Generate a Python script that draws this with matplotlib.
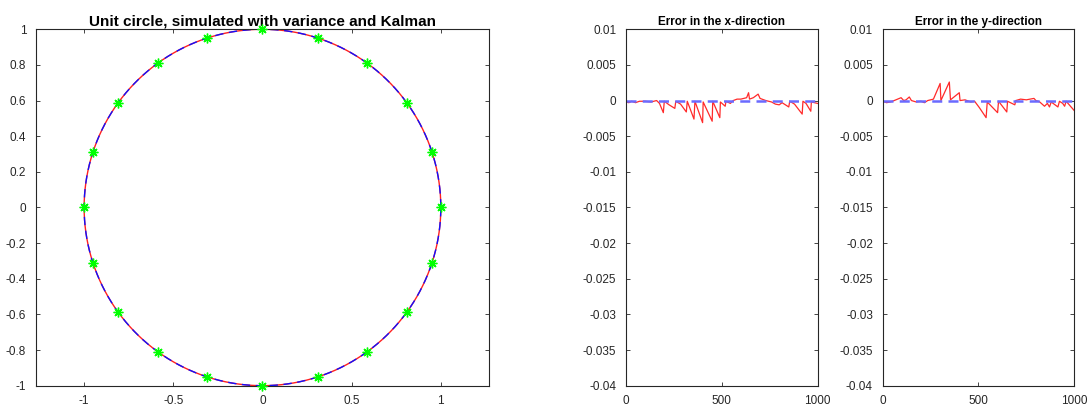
import numpy as np
import matplotlib
matplotlib.use("Agg")
import matplotlib.pyplot as plt

plt.rcParams['font.family'] = ['Liberation Sans', 'DejaVu Sans']

# angles (deg) of the measurement points marked on the circle
marker_angles = [0, 18, 36, 54, 72, 90, 108, 126, 144, 162,
                 180, 198, 216, 234, 252, 270, 288, 306, 324, 342]

# Kalman error, x-direction (sample index, error)
err_x_n = [0, 15, 30, 50, 70, 100, 130, 160, 175, 195, 200, 225, 255, 260,
           285, 315, 320, 355, 360, 400, 403, 450, 453, 490, 493, 518, 522,
           545, 560, 580, 600, 630, 640, 645, 665, 690, 700, 720, 730, 760,
           780, 800, 815, 850, 855, 880, 920, 924, 940, 965, 968, 1000]
err_x = [-0.0002, -0.0003, -0.0001, -0.0003, -0.0001, -0.0001, -0.0002, 0.0,
         -0.0004, -0.0017, -0.0001, -0.0006, -0.0011, -0.0001, -0.0005,
         -0.0016, -0.0001, -0.0026, -0.0001, -0.0031, -0.0002, -0.0029,
         -0.0001, -0.0024, -0.0002, -0.0008, -0.0001, -0.0004, 0.0, 0.0002,
         0.0002, 0.0004, 0.0011, 0.0002, 0.0004, 0.0009, 0.0003, 0.0001, 0.0,
         -0.0002, -0.0005, -0.0006, -0.0003, -0.0009, -0.0001, -0.0005,
         -0.0019, -0.0001, -0.0004, -0.0015, -0.0002, -0.0004]

# Kalman error, y-direction (sample index, error)
err_y_n = [0, 20, 40, 60, 87, 96, 110, 122, 139, 150, 175, 200, 218, 235,
           250, 265, 300, 304, 348, 354, 400, 404, 430, 460, 480, 505, 540,
           546, 600, 605, 648, 652, 690, 695, 720, 750, 790, 800, 820, 845,
           860, 871, 880, 915, 923, 940, 950, 958, 1000]
err_y = [-0.0001, -0.0003, -0.0002, 0.0, 0.0003, 0.0004, 0.0, 0.0001, 0.0005,
         0.0, -0.0002, -0.0001, -0.0003, 0.0, 0.0001, 0.0002, 0.0024, 0.0,
         0.0026, 0.0001, 0.0011, 0.0, 0.0001, -0.0002, -0.0001, -0.0010,
         -0.0024, -0.0002, -0.0017, -0.0001, -0.0016, -0.0001, -0.0006, 0.0,
         0.0002, 0.0001, 0.0003, 0.0, -0.0002, -0.0008, -0.0004, -0.0009,
         -0.0002, -0.0009, -0.0001, -0.0004, -0.0008, -0.0001, -0.0014]

err_ticks = [0.01, 0.005, 0, -0.005, -0.01, -0.015, -0.02, -0.025, -0.03, -0.035, -0.04]

AX_COLOR = '#262626'


def style_axes(ax):
    for s in ax.spines.values():
        s.set_color(AX_COLOR)
        s.set_linewidth(0.8)
    ax.tick_params(direction='in', top=True, right=True, length=3,
                   width=0.6, color=AX_COLOR, labelcolor=AX_COLOR,
                   labelsize=8.5, pad=7)


fig = plt.figure(figsize=(10.9, 4.11), dpi=100)

# unit circle with the simulated track and markers
ax = fig.add_axes([0.0330, 0.0616, 0.4156, 0.8672])
theta = np.linspace(0, 2 * np.pi, 721)
ax.plot(np.cos(theta), np.sin(theta), color='#ff2020', lw=1.0)
ax.plot(np.cos(theta), np.sin(theta), color='#1010ff', lw=1.0, ls=(0, (6, 4)))
ang = np.deg2rad(marker_angles)
ax.plot(np.cos(ang), np.sin(ang), ls='none', marker=(8, 2, 0),
        ms=7, mew=1.0, color='#00ff00', clip_on=False, zorder=5)
ax.set_xlim(-1.27, 1.27)
ax.set_ylim(-1, 1)
ax.set_xticks([-1, -0.5, 0, 0.5, 1])
ax.set_xticklabels(['-1', '-0.5', '0', '0.5', '1'])
ax.set_yticks(np.round(np.arange(-1, 1.01, 0.2), 1))
ax.set_yticklabels(['-1', '-0.8', '-0.6', '-0.4', '-0.2', '0', '0.2', '0.4',
                    '0.6', '0.8', '1'])
ax.set_title('Unit circle, simulated with variance and Kalman',
             fontsize=11, fontweight='bold', pad=3)
style_axes(ax)

# error plots
for left, n, e, name in [(0.5743, err_x_n, err_x, 'x'),
                         (0.8098, err_y_n, err_y, 'y')]:
    a = fig.add_axes([left, 0.0616, 0.1757, 0.8672])
    a.plot(n, e, color='#ff2a2a', lw=0.9)
    a.plot([0, 1000], [0, 0], color='#6a6aff', lw=1.8, ls=(0, (4, 2.5)))
    a.set_xlim(0, 1000)
    a.set_ylim(-0.04, 0.01)
    a.set_xticks([0, 500, 1000])
    a.set_yticks(err_ticks)
    a.set_yticklabels([('%g' % t) if t != 0 else '0' for t in err_ticks])
    a.set_title('Error in the %s-direction' % name,
                fontsize=8.5, fontweight='bold', pad=3)
    style_axes(a)

fig.savefig('out.png', dpi=100, facecolor='white')
